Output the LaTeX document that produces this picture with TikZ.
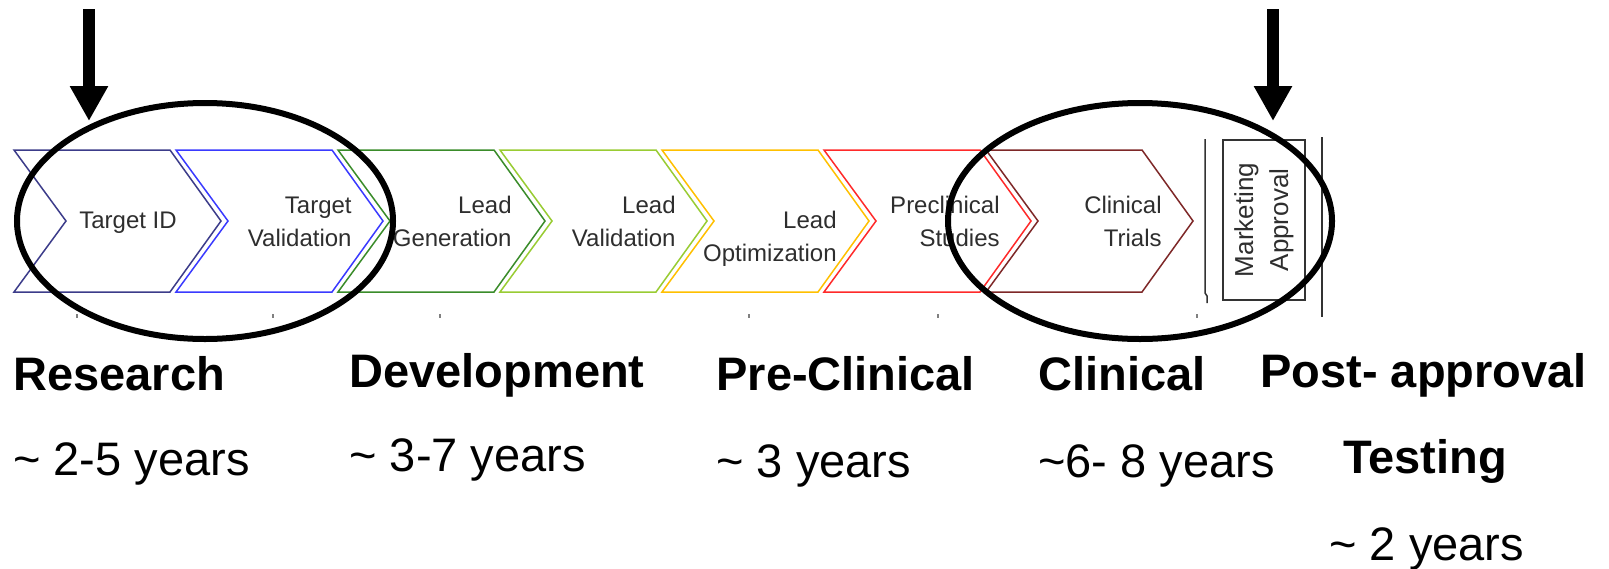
\documentclass[tikz,border=0pt]{standalone}
\usepackage{fontspec}
\setmainfont{Liberation Sans}
\usetikzlibrary{arrows.meta,shapes.geometric}
\definecolor{cNavy}{HTML}{3C3C8A}
\definecolor{cBlue}{HTML}{3A3AFF}
\definecolor{cGreen}{HTML}{3A8C2A}
\definecolor{cLime}{HTML}{99CC33}
\definecolor{cOrange}{HTML}{FFC000}
\definecolor{cRed}{HTML}{FF2A2A}
\definecolor{cBrown}{HTML}{7E2828}
\definecolor{txtgray}{HTML}{2E2E2E}
\definecolor{linegray}{HTML}{333333}
\begin{document}
\begin{tikzpicture}[x=0.5pt,y=-0.5pt,
  chev/.style={line width=0.75pt, line join=miter},
  chevtext/.style={font=\fontsize{12}{16.5}\selectfont, text=txtgray, inner sep=0pt, align=right},
  lab/.style={font=\fontsize{23.5}{28}\selectfont\bfseries, anchor=base west, inner sep=0pt},
  yr/.style={font=\fontsize{23.5}{28}\selectfont, anchor=base west, inner sep=0pt},
  hl/.style={draw, ellipse, line width=3pt, inner sep=0pt, minimum height=118pt},
  bigarrow/.style={line width=6pt, -{Triangle[width=18pt,length=17.5pt]}},
  sepline/.style={draw=linegray, line width=0.75pt},
  tickst/.style={draw=gray, line width=0.6pt}]
\useasboundingbox (0,0) rectangle (1609,568);
\fill[white] (0,0) rectangle (1609,568);

% chevrons
\foreach \i/\c in {0/cNavy,1/cBlue,2/cGreen,3/cLime,4/cOrange,5/cRed,6/cBrown}{
  \draw[chev, draw=\c] ({14+162*\i},150) -- ++(156,0) -- ++(51,71) -- ++(-51,71) -- ++(-156,0) -- ++(52,-71) -- cycle;
}

% chevron texts
\node[chevtext, anchor=center] (t1) at (128,223) {Target ID};
\node[chevtext, anchor=east] (t2) at (352,221.5) {Target\\Validation};
\node[chevtext, anchor=east] (t3) at (512,221.5) {Lead\\Generation};
\node[chevtext, anchor=east] (t4) at (676,221.5) {Lead\\Validation};
\node[chevtext, anchor=east] (t5) at (837,239) {Lead\\Optimization};
\node[chevtext, anchor=east] (t6) at (1000,221.5) {Preclinical\\Studies};
\node[chevtext, anchor=east] (t7) at (1162,221.5) {Clinical\\Trials};

% marketing approval
\node[draw=linegray, line width=0.75pt, rotate=90, minimum width=80pt, minimum height=41pt,
      align=center, font=\fontsize{13}{17.5}\selectfont, inner sep=0pt, text=txtgray]
      (mkt) at (1264,220) {Marketing\\Approval};
\draw[sepline] (1205,139) -- (1205,293) -- (1207,296) -- (1207,303);
\draw[sepline] (1322,137) -- (1322,317);

% small ticks
\foreach \x in {77,273,440,749,938,1197}{
  \draw[tickst] (\x,314) -- (\x,318);
}

% ellipses
\node[hl, minimum width=188pt] (e1) at (205,221) {};
\node[hl, minimum width=192pt] (e2) at (1140,221) {};

% arrows
\coordinate (a1s) at (89,9);
\coordinate (a1e) at (89,121);
\coordinate (a2s) at (1273,9);
\coordinate (a2e) at (1273,121);
\draw[bigarrow] (a1s) -- (a1e);
\draw[bigarrow] (a2s) -- (a2e);

% labels
\node[lab] (rs) at (13,390) {Research};
\node[lab] (dv) at (349,387) {Development};
\node[lab] (pc) at (716,390) {Pre-Clinical};
\node[lab] (cl) at (1038,390) {Clinical};
\node[lab] (pa) at (1260,387) {Post- approval};
\node[lab] (ts) at (1343,473) {Testing};

\node[yr] (y1) at (13,475) {\textasciitilde{} 2-5 years};
\node[yr] (y2) at (349,471) {\textasciitilde{} 3-7 years};
\node[yr] (y3) at (716,477) {\textasciitilde{} 3 years};
\node[yr] (y4) at (1038,477) {\textasciitilde 6- 8 years};
\node[yr] (y5) at (1329,560) {\textasciitilde{} 2 years};
\end{tikzpicture}
\end{document}
